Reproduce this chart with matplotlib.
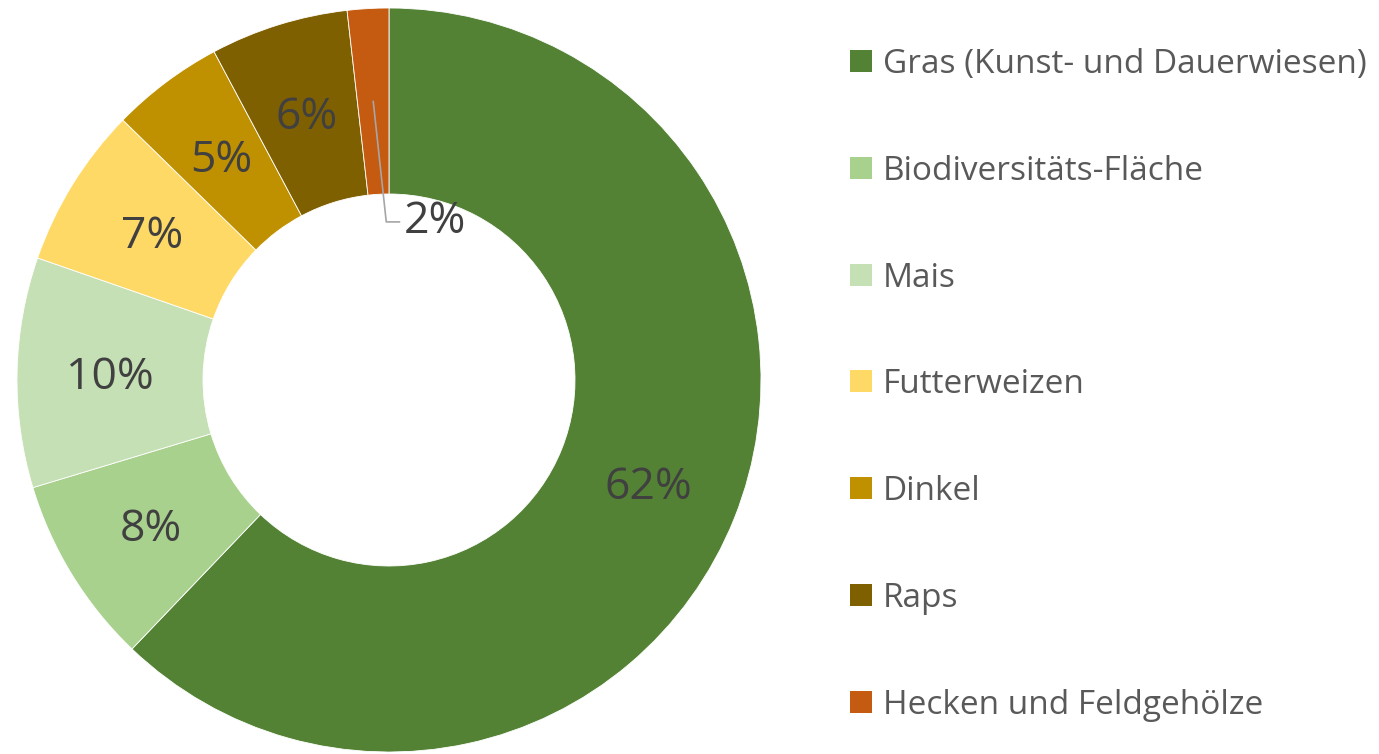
import numpy as np
import matplotlib.pyplot as plt
from matplotlib.patches import Rectangle

categories = ["Gras (Kunst- und Dauerwiesen)", "Biodiversitäts-Fläche", "Mais",
              "Futterweizen", "Dinkel", "Raps", "Hecken und Feldgehölze"]
shares = [62.2, 8.2, 10.0, 7.0, 4.9, 6.0, 1.8]
colors = ["#548235", "#A9D18E", "#C5E0B4", "#FFD966", "#BF9000", "#7F6000", "#C55A11"]

plt.rcParams['font.family'] = ['Open Sans', 'DejaVu Sans']

W, H = 1379, 754
fig = plt.figure(figsize=(W / 100, H / 100), dpi=100)
cx, cy, r = 389, 380, 372
ax = fig.add_axes([(cx - r) / W, (H - cy - r) / H, 2 * r / W, 2 * r / H])

wedges, _ = ax.pie(shares, colors=colors, startangle=90, counterclock=False,
                   radius=1, wedgeprops=dict(width=0.5, edgecolor="white", linewidth=0.6))
ax.set_xlim(-1, 1)
ax.set_ylim(-1, 1)
ax.set_aspect("equal")
ax.axis("off")

for w, v in zip(wedges, shares):
    ang = np.deg2rad((w.theta1 + w.theta2) / 2)
    x, y = 0.75 * np.cos(ang), 0.75 * np.sin(ang)
    if v < 3:
        # small slice: label pulled into the hole with a leader line
        lx, ly = 0.04, 0.425
        ax.plot([x, x + 0.035, lx - 0.012], [y, ly, ly], color="#A6A6A6", lw=1.2)
        ax.text(lx, ly, f"{v:.0f}%", ha="left", va="center", fontsize=32, color="#404040")
    else:
        ax.text(x, y - 0.01, f"{v:.0f}%", ha="center", va="center", fontsize=32, color="#404040")

# legend drawn by hand: square marker + label per row
for i, (c, lab) in enumerate(zip(colors, categories)):
    base = 73 + 106.8 * i
    fig.patches.append(Rectangle((850 / W, 1 - (base - 1) / H), 22 / W, 22 / H,
                                 transform=fig.transFigure, facecolor=c, edgecolor="none"))
    fig.text(883 / W, 1 - base / H, lab, ha="left", va="baseline", fontsize=24,
             color="#595959")

fig.savefig("out.png", dpi=100)
